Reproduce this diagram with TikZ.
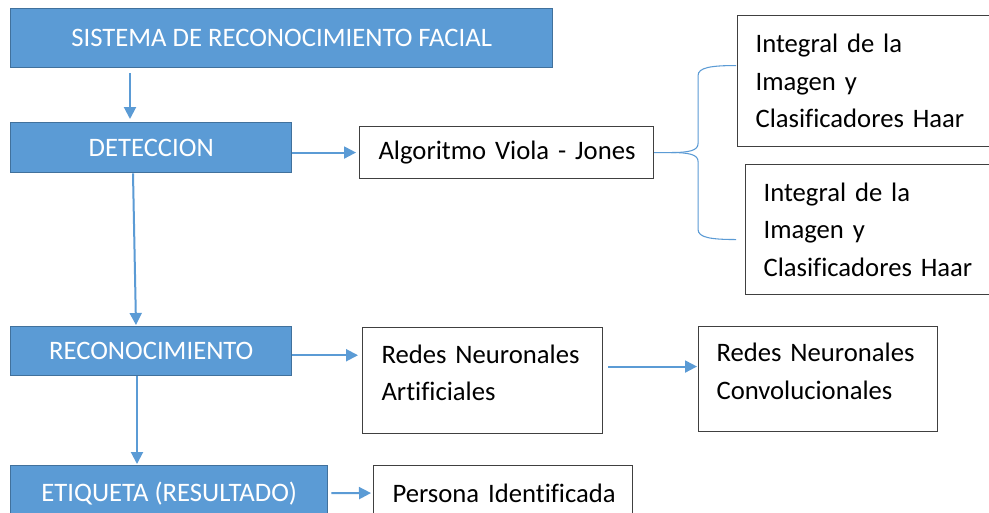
\documentclass[tikz,border=0pt]{standalone}
\usepackage{fontspec}
\setmainfont{Carlito}[Ligatures=NoCommon]
\usetikzlibrary{arrows.meta,calc}
\definecolor{bfill}{HTML}{5B9BD5}
\definecolor{bborder}{HTML}{41719C}
\definecolor{acol}{HTML}{5B9BD5}
\definecolor{edge}{HTML}{404040}
\newcommand\boxfont{\fontsize{20pt}{28pt}\selectfont}
\tikzset{
  bluebox/.style={draw=bborder, fill=bfill, line width=1.1pt, text=white,
    anchor=north west, inner sep=0pt, font=\boxfont},
  wbox/.style={draw=edge, line width=0.8pt, anchor=north west, align=left,
    inner ysep=0pt, font=\boxfont, text=black},
  arr/.style={draw=acol, line width=1.5pt, -{Triangle[length=9pt,width=9pt]}},
  bracecurve/.style={draw=acol, line width=0.8pt},
}
\begin{document}
\begin{tikzpicture}[x=0.75pt,y=-0.75pt]
\clip (0,0) rectangle (989,512);
\fill[white] (0,0) rectangle (989,512);
% blue boxes
\node[bluebox, minimum width=542*0.75pt, minimum height=59*0.75pt] (s) at (10,8) {SISTEMA DE RECONOCIMIENTO FACIAL};
\node[bluebox, minimum width=281*0.75pt, minimum height=50*0.75pt] (d) at (10,122) {DETECCION};
\node[bluebox, minimum width=281*0.75pt, minimum height=49*0.75pt] (r) at (10,326) {RECONOCIMIENTO};
\node[bluebox, minimum width=317*0.75pt, minimum height=55*0.75pt] (e) at (10,465) {ETIQUETA (RESULTADO)};
% white boxes
\node[wbox, inner xsep=19*0.75pt, text width=(294-38)*0.75pt, minimum height=52*0.75pt] (alg) at (359,126) {\mbox{Algoritmo Viola - Jones}};
\node[wbox, inner xsep=18*0.75pt, text width=(270-36)*0.75pt, minimum height=131*0.75pt] (i1) at (737,15) {\mbox{Integral de la}\\\mbox{Imagen y}\\\mbox{Clasificadores Haar}};
\node[wbox, inner xsep=18*0.75pt, text width=(262-36)*0.75pt, minimum height=130*0.75pt] (i2) at (745,164) {\mbox{Integral de la}\\\mbox{Imagen y}\\\mbox{Clasificadores Haar}};
\node[wbox, inner xsep=19*0.75pt, text width=(240-38)*0.75pt, minimum height=106*0.75pt] (rn) at (362,327) {\mbox{Redes Neuronales}\\\mbox{Artificiales}\\[-16.5pt]\mbox{}};
\node[wbox, inner xsep=18*0.75pt, text width=(239-36)*0.75pt, minimum height=105*0.75pt] (cn) at (698,326) {\mbox{Redes Neuronales}\\\mbox{Convolucionales}\\[-16.5pt]\mbox{}};
\node[wbox, inner xsep=19*0.75pt, text width=(259-38)*0.75pt, minimum height=55*0.75pt] (p) at (373,465) {\mbox{Persona Identificada}};
% vertical arrows
\draw[arr] ($(s.south west)+(120,5)$) -- ($(d.north west)+(120,-3)$);
\draw[arr] ($(d.south west)+(123,0)$) -- ($(r.north west)+(126,-1)$);
\draw[arr] ($(r.south west)+(127,0)$) -- ($(e.north west)+(127,-1)$);
% horizontal arrows
\draw[arr] (d.east |- alg.west) -- ($(alg.west)+(-3,0)$);
\draw[arr] ($(r.east)+(0,4)$) -- ($(rn.west |- r.east)+(-4,4)$);
\draw[arr] ($(rn.east)+(5,-14)$) -- ($(cn.west |- rn.east)+(-1,-14)$);
\draw[arr] ($(e.east)+(3,0)$) -- ($(p.west)+(-2,0)$);
% brace
\draw[bracecurve] (alg.east) -- ++(17,0) coordinate (bt)
  .. controls +(18,0) and +(0,7) .. ++(27,-9) -- ++(0,-68)
  .. controls +(0,-8) and +(-25,0) .. ++(38,-10);
\draw[bracecurve] (bt)
  .. controls +(18,0) and +(0,-7) .. ++(27,9) -- ++(0,68)
  .. controls +(0,8) and +(-25,0) .. ++(38,10);
\end{tikzpicture}
\end{document}
